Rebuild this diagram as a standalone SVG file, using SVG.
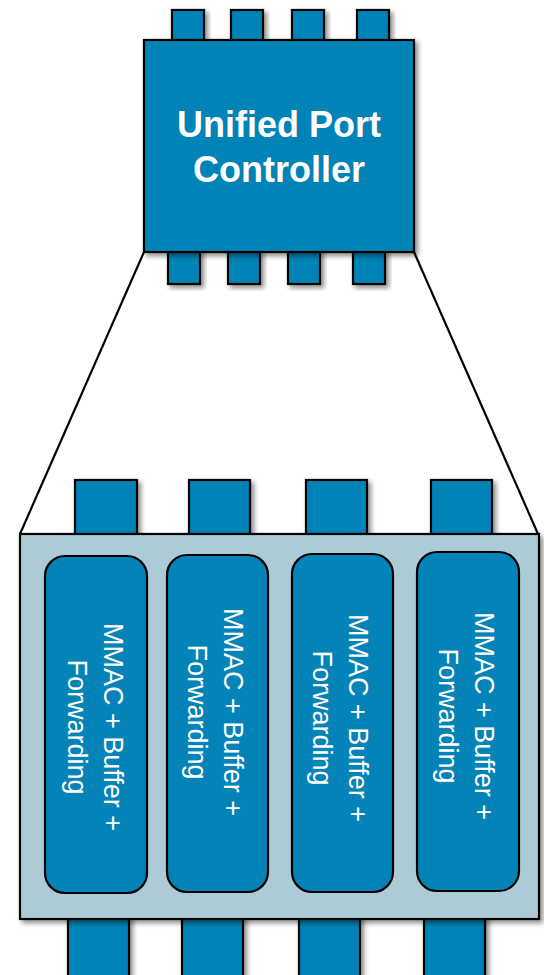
<svg xmlns="http://www.w3.org/2000/svg" width="544" height="975" viewBox="0 0 544 975">
  <defs>
    <filter id="shadow" x="-20%" y="-20%" width="140%" height="140%">
      <feDropShadow dx="3" dy="3" stdDeviation="2.5" flood-color="#000" flood-opacity="0.45"/>
    </filter>
  </defs>
  <style>
    .pin { fill: #0383b7; stroke: #000; stroke-width: 2.2; filter: url(#shadow); }
    .chip { fill: #0383b7; stroke: #000; stroke-width: 2.2; filter: url(#shadow); }
    .board { fill: #adcbd7; stroke: #000; stroke-width: 2.2; filter: url(#shadow); }
    .slice { fill: #0383b7; stroke: #000; stroke-width: 2.2; }
    .title { font-family: "Liberation Sans", Arial, sans-serif; font-weight: bold; font-size: 36px; fill: #fff; text-anchor: middle; }
    .label { font-family: "Liberation Sans", Arial, sans-serif; font-size: 27px; fill: #fff; text-anchor: middle; }
    .edge { stroke: #000; stroke-width: 2.2; fill: none; }
  </style>

  <!-- zoom lines from the controller down to the expanded view -->
  <g id="connectors">
    <line class="edge" x1="144" y1="252" x2="20" y2="534"/>
    <line class="edge" x1="414" y1="252" x2="538" y2="534"/>
  </g>

  <!-- Unified Port Controller chip -->
  <g id="controller">
    <rect class="pin" x="172" y="10" width="32" height="32"/>
    <rect class="pin" x="231" y="10" width="32" height="32"/>
    <rect class="pin" x="292" y="10" width="32" height="32"/>
    <rect class="pin" x="357" y="10" width="32" height="32"/>
    <rect class="pin" x="168" y="250" width="32" height="34"/>
    <rect class="pin" x="228" y="250" width="32" height="34"/>
    <rect class="pin" x="288" y="250" width="32" height="34"/>
    <rect class="pin" x="353" y="250" width="32" height="34"/>
    <rect class="chip" x="144" y="40" width="270" height="212"/>
    <text class="title" x="279" y="137">Unified Port</text>
    <text class="title" x="279" y="182">Controller</text>
  </g>

  <!-- expanded view -->
  <g id="expanded">
    <rect class="pin" x="75" y="480" width="62" height="56"/>
    <rect class="pin" x="189" y="480" width="61" height="56"/>
    <rect class="pin" x="306" y="480" width="61" height="56"/>
    <rect class="pin" x="431" y="480" width="61" height="56"/>
    <rect class="pin" x="68" y="916" width="61" height="64"/>
    <rect class="pin" x="182" y="916" width="61" height="64"/>
    <rect class="pin" x="299" y="916" width="61" height="64"/>
    <rect class="pin" x="424" y="916" width="61" height="64"/>
    <rect class="board" x="20" y="534" width="519" height="385"/>
  </g>

  <g id="slice1">
    <rect class="slice" x="45" y="556" width="102" height="337" rx="20"/>
    <text class="label" transform="translate(96,727) rotate(90)"><tspan x="0" y="-8">MMAC + Buffer +</tspan><tspan x="0" y="28">Forwarding</tspan></text>
  </g>
  <g id="slice2">
    <rect class="slice" x="167" y="555" width="101" height="337" rx="20"/>
    <text class="label" transform="translate(217.5,712) rotate(90)"><tspan x="0" y="-6.5">MMAC + Buffer +</tspan><tspan x="0" y="29.5">Forwarding</tspan></text>
  </g>
  <g id="slice3">
    <rect class="slice" x="292" y="554" width="101" height="338" rx="20"/>
    <text class="label" transform="translate(342.5,718) rotate(90)"><tspan x="0" y="-6.5">MMAC + Buffer +</tspan><tspan x="0" y="29.5">Forwarding</tspan></text>
  </g>
  <g id="slice4">
    <rect class="slice" x="417" y="552" width="102" height="339" rx="20"/>
    <text class="label" transform="translate(468.5,716) rotate(90)"><tspan x="0" y="-6.5">MMAC + Buffer +</tspan><tspan x="0" y="29.5">Forwarding</tspan></text>
  </g>
</svg>
